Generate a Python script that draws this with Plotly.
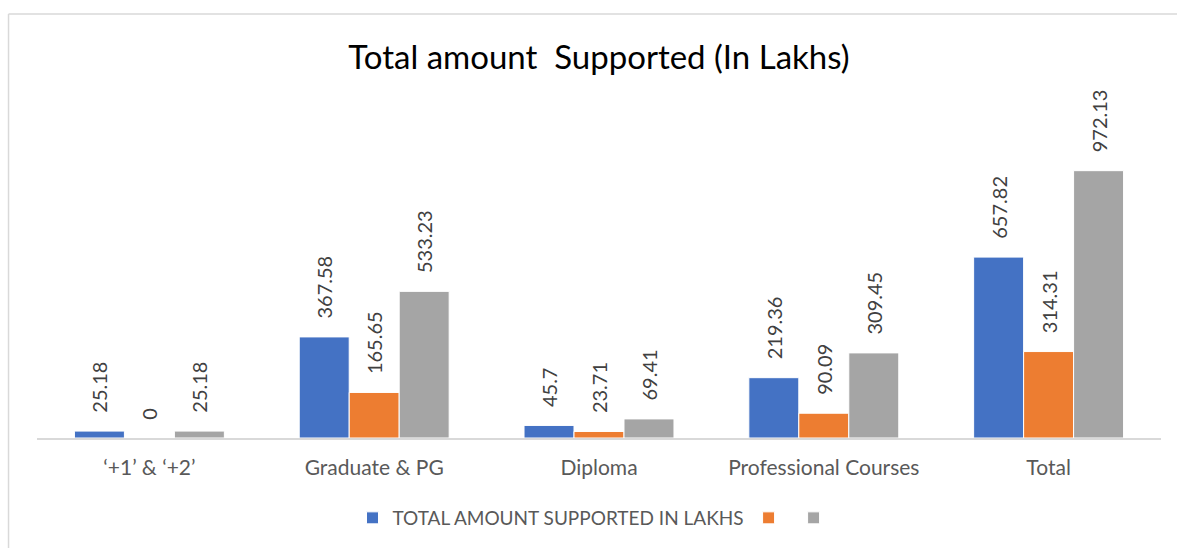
import plotly.graph_objects as go

# Data
categories = ["\u2018+1\u2019 & \u2018+2\u2019", "Graduate & PG", "Diploma", "Professional Courses", "Total"]
series_names = ["TOTAL AMOUNT SUPPORTED IN LAKHS", "", ""]
blue_vals = [25.18, 367.58, 45.7, 219.36, 657.82]
orange_vals = [0, 165.65, 23.71, 90.09, 314.31]
gray_vals = [25.18, 533.23, 69.41, 309.45, 972.13]
colors = ["#4472C4", "#ED7D31", "#A5A5A5"]

W, H = 1177, 548
FONT = "Lato, Carlito, Calibri, sans-serif"

fig = go.Figure()
for name, vals, color in zip(series_names, [blue_vals, orange_vals, gray_vals], colors):
    fig.add_trace(go.Bar(
        x=categories,
        y=vals,
        name=name,
        marker=dict(color=color, line=dict(color="white", width=1)),
        # leading spaces push the rotated label away from the bar top
        text=["\u00a0\u00a0\u00a0" + f"{v:g}" for v in vals],
        textposition="outside",
        textangle=-90,
        constraintext="none",
        cliponaxis=False,
        textfont=dict(family=FONT, size=20, color="#404040"),
        hoverinfo="x+y",
    ))

# plot area in pixels
left, right, top, bottom = 36.5, 1161.5, 108, 438
pw, ph = right - left, bottom - top

fig.update_layout(
    width=W, height=H,
    margin=dict(l=left, r=W - right, t=top, b=H - bottom, autoexpand=False),
    paper_bgcolor="white",
    plot_bgcolor="white",
    barmode="group",
    bargap=0.333,
    bargroupgap=0,
    title=dict(
        text="Total amount\u00a0 Supported (In Lakhs)",
        x=0.5, xref="paper", xanchor="center",
        y=1 - 57 / H, yanchor="middle",
        font=dict(family=FONT, size=33, color="#000000"),
    ),
    legend=dict(
        orientation="h",
        x=(596 - left) / pw, xanchor="center",
        y=-(518 - bottom) / ph, yanchor="middle",
        font=dict(family=FONT, size=19, color="#595959"),
        itemwidth=30,
        traceorder="normal",
    ),
    showlegend=True,
)

fig.update_xaxes(
    showline=True, linecolor="#D9D9D9", linewidth=2,
    ticks="", showgrid=False,
    tickfont=dict(family=FONT, size=21, color="#595959"),
    ticklabelstandoff=10,
)
fig.update_yaxes(range=[0, 1200], visible=False, showgrid=False)

# light chart frame (left and top edges)
fig.add_shape(type="line", xref="paper", yref="paper",
              x0=(8 - left) / pw, x1=(W + 5 - left) / pw,
              y0=(bottom - 14) / ph, y1=(bottom - 14) / ph,
              line=dict(color="#D9D9D9", width=1.5))
fig.add_shape(type="line", xref="paper", yref="paper",
              x0=(8 - left) / pw, x1=(8 - left) / pw,
              y0=(bottom - 14) / ph, y1=-(H + 5 - bottom) / ph,
              line=dict(color="#D9D9D9", width=1.5))

fig.write_html("out.html", config={"displayModeBar": False},
               post_script="document.body.style.margin='0';")
